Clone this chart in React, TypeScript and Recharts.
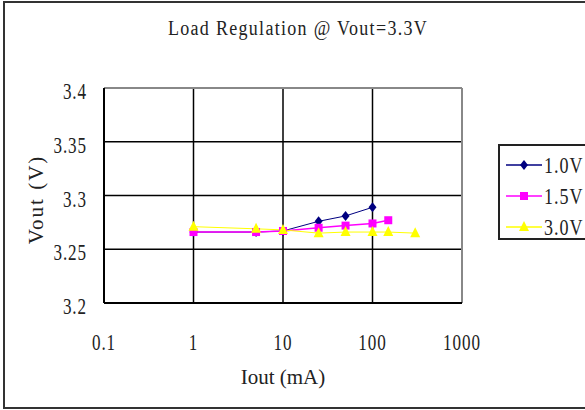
import React from "react";
import {
  LineChart,
  Line,
  XAxis,
  YAxis,
  CartesianGrid,
  ReferenceLine,
} from "recharts";

const xTicks = [0.1, 1, 10, 100, 1000];
const yTicks = [3.2, 3.25, 3.3, 3.35, 3.4];

const iout10 = [1, 5, 10, 25, 50, 100];
const vout10 = [3.266, 3.266, 3.267, 3.276, 3.281, 3.289];

const iout15 = [1, 5, 10, 25, 50, 100, 150];
const vout15 = [3.266, 3.266, 3.267, 3.27, 3.272, 3.274, 3.277];

const iout30 = [1, 5, 10, 25, 50, 100, 150, 300];
const vout30 = [3.271, 3.269, 3.268, 3.265, 3.266, 3.266, 3.266, 3.265];

const toRows = (xs: number[], ys: number[]) =>
  xs.map((x, i) => ({ x, y: ys[i] }));

const series = [
  { name: "1.0V", color: "#000080", shape: "diamond", data: toRows(iout10, vout10) },
  { name: "1.5V", color: "#FF00FF", shape: "square", data: toRows(iout15, vout15) },
  { name: "3.0V", color: "#FFFF00", shape: "triangle", data: toRows(iout30, vout30) },
];

const font = "'Liberation Serif', serif";
const ink = "#222";

function Marker({ cx, cy, shape, color }: any) {
  if (cx == null || cy == null) return null;
  if (shape === "diamond") {
    return (
      <path
        d={`M${cx},${cy - 5} L${cx + 4},${cy} L${cx},${cy + 5} L${cx - 4},${cy} Z`}
        fill={color}
      />
    );
  }
  if (shape === "square") {
    return <rect x={cx - 4} y={cy - 4} width={8} height={8} fill={color} />;
  }
  return (
    <path
      d={`M${cx},${cy - 6} L${cx + 5},${cy + 4} L${cx - 5},${cy + 4} Z`}
      fill={color}
    />
  );
}

// tall, narrow glyphs like the original bitmap font
function TallText({ x, y, anchor, children }: any) {
  return (
    <text
      transform={`translate(${x},${y}) scale(0.9,1.25)`}
      textAnchor={anchor}
      fontFamily={font}
      fontSize={19}
      letterSpacing={1}
      fill={ink}
    >
      {children}
    </text>
  );
}

function XTick({ x, y, payload }: any) {
  return (
    <TallText x={x} y={y + 45} anchor="middle">
      {String(payload.value)}
    </TallText>
  );
}

function YTick({ x, y, payload }: any) {
  return (
    <TallText x={x - 15} y={y + 11} anchor="end">
      {String(payload.value)}
    </TallText>
  );
}

function YLabel({ viewBox }: any) {
  const cy = viewBox.y + viewBox.height / 2 + 4;
  return (
    <text
      transform={`translate(43,${cy}) rotate(-90)`}
      textAnchor="middle"
      fontFamily={font}
      fontSize={21}
      letterSpacing={2}
      fill={ink}
    >
      Vout (V)
    </text>
  );
}

function LegendBox() {
  return (
    <div
      style={{
        position: "absolute",
        left: 498,
        top: 144,
        width: 100,
        height: 96,
        border: "2px solid #222",
        background: "#fff",
        paddingLeft: 6,
        paddingTop: 3,
        boxSizing: "border-box",
        fontFamily: font,
        fontSize: 19,
        color: ink,
      }}
    >
      {series.map((s) => (
        <div key={s.name} style={{ display: "flex", alignItems: "center", height: 31 }}>
          <svg width={36} height={16} style={{ flex: "none" }}>
            <line x1={0} y1={8} x2={36} y2={8} stroke={s.color} strokeWidth={1.5} />
            <Marker cx={18} cy={8} shape={s.shape} color={s.color} />
          </svg>
          <span style={{ marginLeft: 2, display: "inline-block", transform: "scale(0.95,1.25)", transformOrigin: "left center", letterSpacing: 1 }}>
            {s.name}
          </span>
        </div>
      ))}
    </div>
  );
}

export default function App() {
  return (
    <div style={{ position: "absolute", left: 0, top: 0, width: 585, height: 410, background: "#fff", overflow: "hidden" }}>
      <div
        style={{
          position: "absolute",
          left: 3,
          top: 1,
          width: 640,
          height: 404,
          border: "2px solid #333",
        }}
      />
      <div
        style={{
          position: "absolute",
          left: 0,
          top: 18,
          width: 596,
          textAlign: "center",
          fontFamily: font,
          fontSize: 18,
          color: ink,
          letterSpacing: 1.3,
          transform: "scaleY(1.2)",
        }}
      >
        Load Regulation @ Vout=3.3V
      </div>
      <LineChart
        width={585}
        height={410}
        margin={{ top: 88, right: 123, bottom: 0, left: 0 }}
        style={{ position: "absolute", left: 0, top: 0 }}
      >
        <CartesianGrid stroke="#000" strokeWidth={1.5} />
        <XAxis
          dataKey="x"
          type="number"
          scale="log"
          domain={[0.1, 1000]}
          ticks={xTicks}
          allowDataOverflow
          height={107}
          tickLine={false}
          tickSize={0}
          axisLine={{ stroke: "#000", strokeWidth: 2 }}
          tick={<XTick />}
          label={{
            value: "Iout (mA)",
            position: "insideBottom",
            offset: 26,
            fontFamily: font,
            fontSize: 21,
            fill: ink,
          }}
        />
        <YAxis
          type="number"
          domain={[3.2, 3.4]}
          ticks={yTicks}
          width={104}
          tickLine={false}
          tickSize={0}
          axisLine={{ stroke: "#000", strokeWidth: 2 }}
          tick={<YTick />}
          label={<YLabel />}
        />
        <ReferenceLine y={3.4} stroke="#888" strokeWidth={2} />
        <ReferenceLine x={1000} stroke="#888" strokeWidth={2} />
        {series.map((s) => (
          <Line
            key={s.name}
            data={s.data}
            dataKey="y"
            name={s.name}
            stroke={s.color}
            strokeWidth={s.shape === "square" ? 1.5 : 1}
            dot={(p: any) => <Marker key={p.index} cx={p.cx} cy={p.cy} shape={s.shape} color={s.color} />}
            activeDot={false}
            isAnimationActive={false}
          />
        ))}
      </LineChart>
      <LegendBox />
    </div>
  );
}
